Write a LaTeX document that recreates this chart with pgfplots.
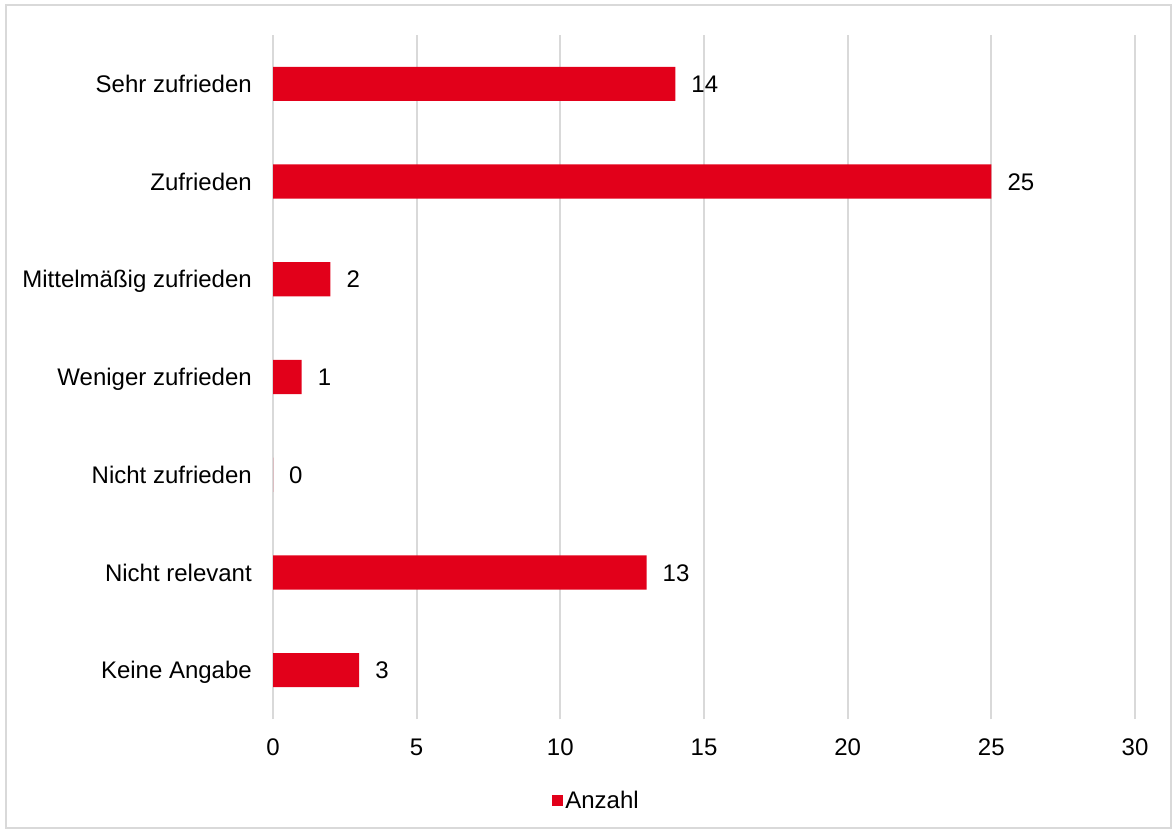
\documentclass[border=0pt]{standalone}
\usepackage{fontspec}
\setmainfont{Liberation Sans}
\usepackage{pgfplots}
\pgfplotsset{compat=1.18}
\definecolor{barred}{HTML}{E2001A}
\definecolor{gridgray}{HTML}{D9D9D9}
\begin{document}
\begin{tikzpicture}[x=1pt,y=1pt,font=\fontsize{24pt}{28pt}\selectfont]
\path[use as bounding box] (0,0) rectangle (1174,833);
\draw[gridgray, line width=1.5pt] (6,5) rectangle (1171,828);
\begin{axis}[
  at={(273pt,114pt)}, anchor=south west,
  scale only axis, width=862pt, height=684pt,
  xbar, bar width=0.35,
  xmin=0, xmax=30, ymin=-0.5, ymax=6.5,
  xtick={0,5,...,30},
  ytick={0,...,6},
  yticklabels={Keine Angabe, Nicht relevant, Nicht zufrieden, Weniger zufrieden, Mittelmäßig zufrieden, Zufrieden, Sehr zufrieden},
  xmajorgrids, grid style={gridgray, line width=2pt},
  axis line style={draw=none},
  major tick length=0pt,
  /pgf/number format/assume math mode=true,
  tick label style={font=\fontsize{24pt}{28pt}\selectfont, inner sep=0pt, text=black},
  xticklabel style={anchor=base, yshift=-36.5pt},
  yticklabel style={anchor=base east, xshift=-21pt, yshift=-8.6pt},
  nodes near coords,
  nodes near coords style={font=\fontsize{24pt}{28pt}\selectfont, anchor=base west, inner sep=0pt, xshift=16pt, yshift=-8.6pt, text=black},
  legend style={at={(axis description cs:0.3753,-0.1192)}, anchor=center, draw=none, fill=none,
     font=\fontsize{24pt}{28pt}\selectfont, inner sep=0pt,
     /tikz/every odd column/.append style={column sep=0pt}},
  legend image code/.code={\fill[barred] (0pt,-5.5pt) rectangle (11pt,5.5pt);},
]
\addplot[draw=none, fill=barred] coordinates {
  (3,0) (13,1) (0,2) (1,3) (2,4) (25,5) (14,6)
};
\addlegendentry{Anzahl}
\end{axis}
\end{tikzpicture}
\end{document}
